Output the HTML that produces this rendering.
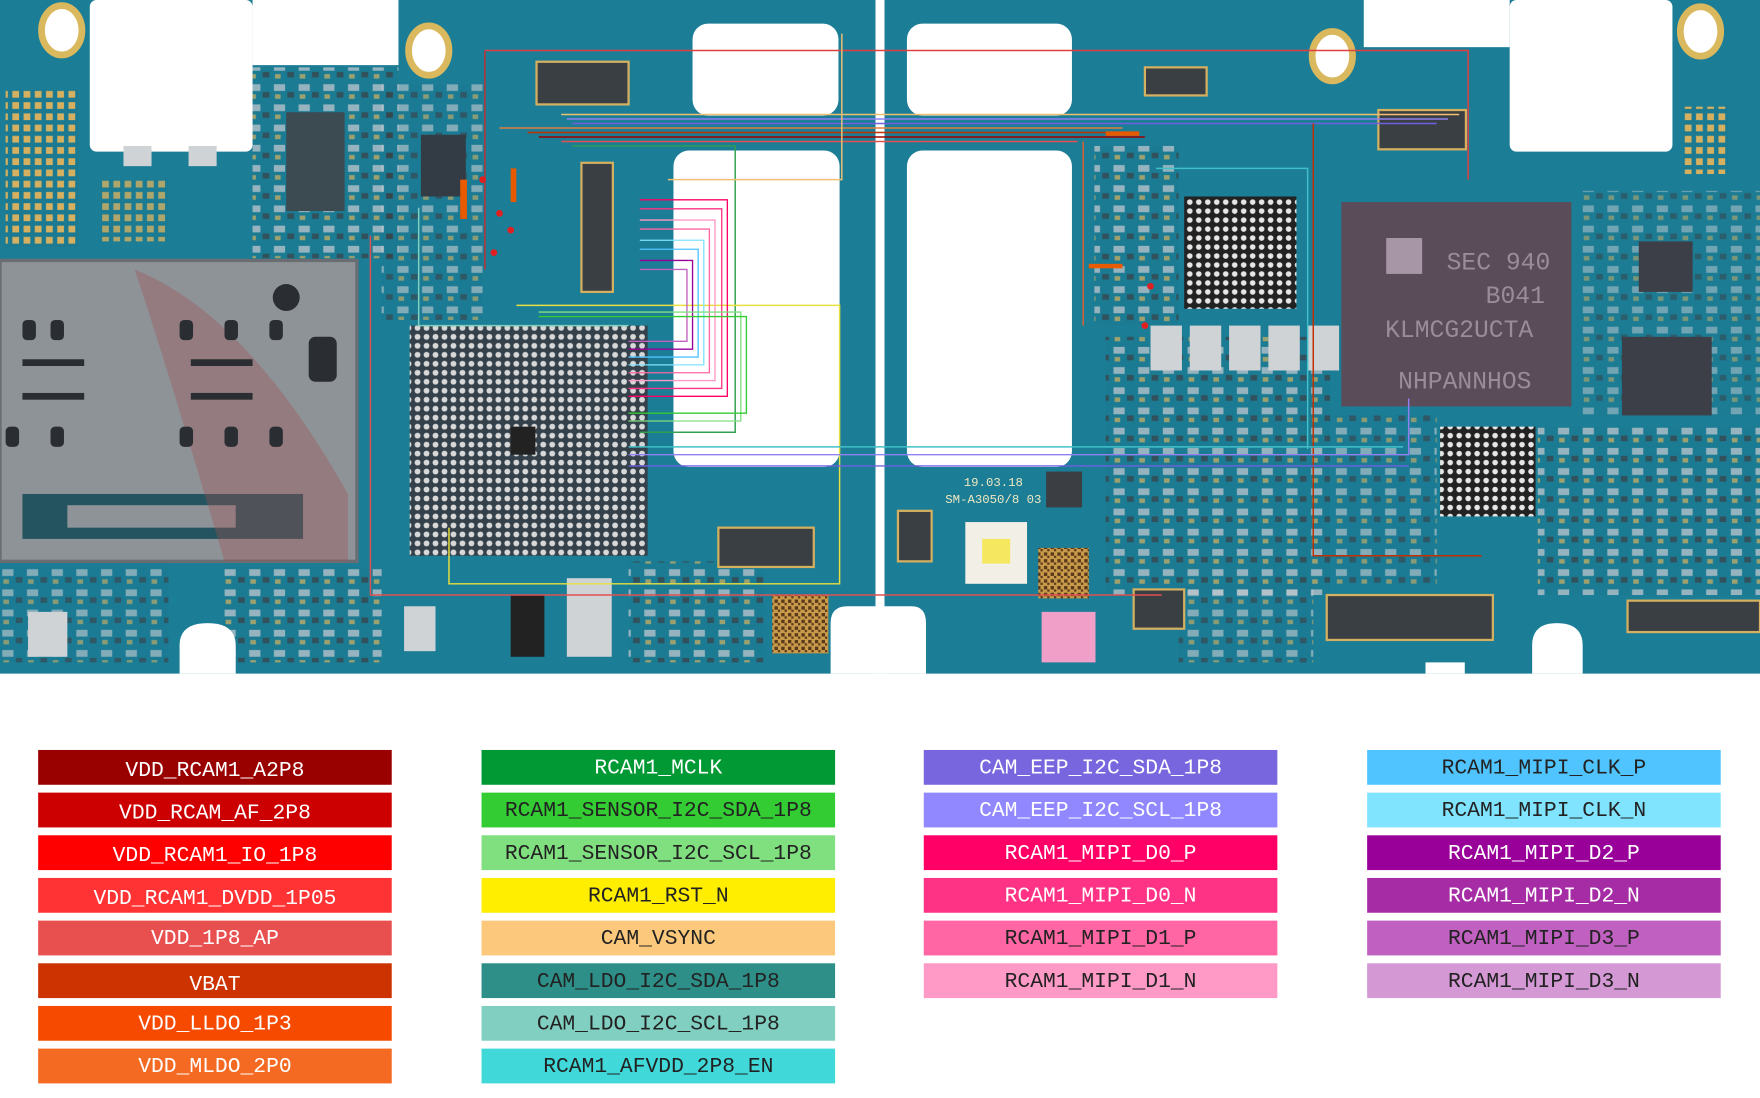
<!DOCTYPE html>
<html><head><meta charset="utf-8"><style>
html,body{margin:0;padding:0;background:#fff;}
svg{display:block;}
.t{font-family:"Liberation Mono","DejaVu Sans Mono",monospace;font-size:19px;text-anchor:middle;}
</style></head><body>
<svg width="1760" height="1098" viewBox="0 0 1568 978" preserveAspectRatio="none" xmlns="http://www.w3.org/2000/svg">
<defs>
<pattern id="dots" width="8" height="8" patternUnits="userSpaceOnUse"><rect width="8" height="8" fill="#34414a"/><circle cx="4" cy="4" r="2.6" fill="#d8d8d8"/></pattern>
<pattern id="dots2" width="8" height="8" patternUnits="userSpaceOnUse"><rect width="8" height="8" fill="#222"/><circle cx="4" cy="4" r="2.5" fill="#e6e6e6"/></pattern>
<pattern id="pads" width="10" height="10" patternUnits="userSpaceOnUse"><rect width="10" height="10" fill="#1b7a92"/><rect x="1" y="1" width="6" height="6" fill="#d4b060"/></pattern>
<pattern id="comp" width="22" height="18" patternUnits="userSpaceOnUse"><rect width="22" height="18" fill="#1b7a92"/><rect x="2" y="3" width="10" height="6" fill="#c9ccd0"/><rect x="14" y="10" width="6" height="5" fill="#3a3f44"/><rect x="3" y="12" width="5" height="4" fill="#d4b060"/></pattern>
<pattern id="qr" width="6" height="6" patternUnits="userSpaceOnUse"><rect width="6" height="6" fill="#c99a4a"/><rect x="0" y="0" width="3" height="3" fill="#5a3a1a"/><rect x="3" y="3" width="2" height="2" fill="#5a3a1a"/></pattern>
</defs>
<rect x="0" y="0" width="1568" height="600" fill="#1b7d96"/>
<!-- component texture areas -->
<rect x="225" y="60" width="130" height="170" fill="url(#comp)" opacity="0.7"/>
<rect x="340" y="75" width="90" height="210" fill="url(#comp)" opacity="0.6"/>
<rect x="200" y="505" width="140" height="85" fill="url(#comp)" opacity="0.7"/>
<rect x="560" y="500" width="120" height="90" fill="url(#comp)" opacity="0.7"/>
<rect x="975" y="130" width="75" height="160" fill="url(#comp)" opacity="0.7"/>
<rect x="985" y="300" width="200" height="230" fill="url(#comp)" opacity="0.7"/>
<rect x="1190" y="370" width="90" height="150" fill="url(#comp)" opacity="0.6"/>
<rect x="1370" y="380" width="198" height="150" fill="url(#comp)" opacity="0.7"/>
<rect x="1410" y="170" width="158" height="200" fill="url(#comp)" opacity="0.5"/>
<rect x="1050" y="520" width="120" height="70" fill="url(#comp)" opacity="0.6"/>
<rect x="0" y="505" width="150" height="85" fill="url(#comp)" opacity="0.6"/>
<rect x="820" y="30" width="0" height="0"/>
<!-- whites -->
<rect x="80" y="0" width="145" height="135" rx="6" fill="#fff"/>
<rect x="225" y="0" width="130" height="58" fill="#fff"/>
<rect x="1215" y="0" width="130" height="42" fill="#fff"/>
<rect x="1345" y="0" width="145" height="135" rx="6" fill="#fff"/>
<rect x="780" y="0" width="8" height="600" fill="#fff"/>
<path d="M740 600 L740 555 Q740 540 755 540 L812 540 Q825 540 825 555 L825 600 Z" fill="#fff"/>
<path d="M160 600 L160 575 Q160 555 185 555 Q210 555 210 575 L210 600 Z" fill="#fff"/>
<path d="M1365 600 L1365 575 Q1365 555 1387 555 Q1410 555 1410 575 L1410 600 Z" fill="#fff"/>
<rect x="1270" y="590" width="35" height="10" fill="#fff"/>
<rect x="617" y="21" width="130" height="82" rx="14" fill="#fff"/>
<rect x="600" y="134" width="148" height="282" rx="14" fill="#fff"/>
<rect x="808" y="21" width="147" height="82" rx="14" fill="#fff"/>
<rect x="808" y="134" width="147" height="282" rx="14" fill="#fff"/>
<g fill="#fff" stroke="#d9b85e" stroke-width="6">
<ellipse cx="55" cy="27" rx="18" ry="22"/><ellipse cx="382" cy="45" rx="18" ry="22"/>
<ellipse cx="1187" cy="50" rx="18" ry="22"/><ellipse cx="1515" cy="28" rx="18" ry="22"/>
</g>
<rect x="5" y="80" width="65" height="140" fill="url(#pads)"/>
<rect x="90" y="160" width="60" height="55" fill="url(#pads)" opacity="0.8"/>
<rect x="1500" y="95" width="40" height="60" fill="url(#pads)"/>
<!-- SIM tray -->
<rect x="0" y="232" width="318" height="268" fill="#8e9398"/>
<rect x="0" y="232" width="318" height="268" fill="none" stroke="#6a6e73" stroke-width="3"/>
<rect x="20" y="440" width="250" height="40" fill="#24545f"/>
<rect x="60" y="450" width="150" height="20" fill="#8e9398"/>
<path d="M120 240 Q220 280 310 440 L310 500 L200 500 Q150 330 120 240Z" fill="#a05050" opacity="0.35"/>
<g fill="#2a2e33">
<rect x="20" y="285" width="12" height="18" rx="4"/><rect x="45" y="285" width="12" height="18" rx="4"/><rect x="160" y="285" width="12" height="18" rx="4"/><rect x="200" y="285" width="12" height="18" rx="4"/><rect x="240" y="285" width="12" height="18" rx="4"/>
<rect x="5" y="380" width="12" height="18" rx="4"/><rect x="45" y="380" width="12" height="18" rx="4"/><rect x="160" y="380" width="12" height="18" rx="4"/><rect x="200" y="380" width="12" height="18" rx="4"/><rect x="240" y="380" width="12" height="18" rx="4"/>
<rect x="20" y="320" width="55" height="6"/><rect x="20" y="350" width="55" height="6"/><rect x="170" y="320" width="55" height="6"/><rect x="170" y="350" width="55" height="6"/>
<circle cx="255" cy="265" r="12"/><rect x="275" y="300" width="25" height="40" rx="6"/>
</g>
<rect x="255" y="100" width="52" height="88" fill="#3c4a52"/>
<rect x="375" y="120" width="40" height="55" fill="#333c44"/>
<rect x="365" y="290" width="212" height="205" fill="url(#dots)"/>
<rect x="455" y="380" width="22" height="25" fill="#222"/>
<rect x="1055" y="175" width="100" height="100" fill="url(#dots2)"/>
<rect x="1195" y="180" width="205" height="182" fill="#5a4c58"/>
<text x="1335" y="240" font-family="Liberation Mono,monospace" font-size="22" fill="#9a8c98" text-anchor="middle">SEC 940</text>
<text x="1350" y="270" font-family="Liberation Mono,monospace" font-size="22" fill="#9a8c98" text-anchor="middle">B041</text>
<text x="1300" y="300" font-family="Liberation Mono,monospace" font-size="22" fill="#9a8c98" text-anchor="middle">KLMCG2UCTA</text>
<text x="1305" y="346" font-family="Liberation Mono,monospace" font-size="22" fill="#9a8c98" text-anchor="middle">NHPANNHOS</text>
<rect x="1235" y="212" width="32" height="32" fill="#c8b8c8" opacity="0.7"/>
<rect x="1283" y="380" width="85" height="80" fill="url(#dots2)"/>
<rect x="1445" y="300" width="80" height="70" fill="#3d3f48"/>
<rect x="1460" y="215" width="48" height="45" fill="#3d3f48"/>
<g fill="#3a3f44" stroke="#d4b060" stroke-width="2">
<rect x="478" y="55" width="82" height="38"/><rect x="518" y="145" width="28" height="115"/>
<rect x="640" y="470" width="85" height="35"/><rect x="1182" y="530" width="148" height="40"/>
<rect x="1450" y="535" width="118" height="28"/><rect x="1228" y="98" width="78" height="35"/>
<rect x="1020" y="60" width="55" height="25"/><rect x="1010" y="525" width="45" height="35"/><rect x="800" y="455" width="30" height="45"/>
</g>
<g fill="#cfd3d6">
<rect x="1025" y="290" width="28" height="40"/><rect x="1060" y="290" width="28" height="40"/><rect x="1095" y="290" width="28" height="40"/><rect x="1130" y="290" width="28" height="40"/><rect x="1165" y="290" width="28" height="40"/>
<rect x="505" y="515" width="40" height="70"/><rect x="360" y="540" width="28" height="40"/><rect x="110" y="130" width="25" height="18"/><rect x="168" y="130" width="25" height="18"/>
<rect x="25" y="545" width="35" height="40"/>
</g>
<rect x="455" y="530" width="30" height="55" fill="#222"/>
<rect x="688" y="530" width="50" height="52" fill="url(#qr)"/>
<rect x="925" y="488" width="45" height="45" fill="url(#qr)"/>
<rect x="928" y="545" width="48" height="45" fill="#f0a0c8"/>
<rect x="860" y="465" width="55" height="55" fill="#f2efe6"/>
<rect x="875" y="480" width="25" height="22" fill="#f5e860"/>
<rect x="932" y="420" width="32" height="32" fill="#3b3f44"/>
<text x="885" y="433" font-family="Liberation Mono,monospace" font-size="11" fill="#f0e8c0" text-anchor="middle">19.03.18</text>
<text x="885" y="448" font-family="Liberation Mono,monospace" font-size="11" fill="#f0e8c0" text-anchor="middle">SM-A3050/8 03</text>
<g fill="none" stroke-width="1.3">
<path d="M432 45 H1308 V160" stroke="#e04040"/>
<path d="M432 45 V240" stroke="#c03030"/>
<path d="M500 102 H1300" stroke="#f0c070"/>
<path d="M505 106 H1290" stroke="#9080f0"/>
<path d="M510 110 H1280" stroke="#7060e0"/>
<path d="M445 114 H1000" stroke="#e08040"/>
<path d="M470 118 H1010" stroke="#c03000"/>
<path d="M480 122 H1020" stroke="#a00000"/>
<path d="M500 126 H960" stroke="#e05050"/>
<path d="M510 130 H655 V385 H570" stroke="#30a050"/>
<path d="M595 160 H750 V30" stroke="#f0c070"/>
<path d="M373 185 V290 H560" stroke="#80d0c0"/>
<path d="M330 210 V530 H1035" stroke="#e05050"/>
<path d="M460 272 H748 V520 H400 V470" stroke="#e8e040"/>
<path d="M965 126 V290" stroke="#e06030"/>
<path d="M1170 110 V495 H1320" stroke="#c03000"/>
<path d="M560 405 H1255 V355" stroke="#9080f0"/>
<path d="M560 398 H1250" stroke="#40c0c8"/>
<path d="M560 415 H1255" stroke="#7060e0"/>
<path d="M1030 150 H1165 V400" stroke="#40c0c8"/>
</g>
<g stroke-width="1.2" fill="none">
<path d="M570 178 H648 V353 H560" stroke="#ff0066"/>
<path d="M570 186 H643 V346 H560" stroke="#ff3385"/>
<path d="M570 196 H637 V339 H560" stroke="#ff99c6"/>
<path d="M570 204 H632 V332 H560" stroke="#ff66a3"/>
<path d="M570 214 H627 V325 H560" stroke="#80e4ff"/>
<path d="M570 222 H622 V318 H560" stroke="#50c4ff"/>
<path d="M570 232 H617 V311 H560" stroke="#990099"/>
<path d="M570 240 H612 V304 H560" stroke="#c060c0"/>
<path d="M480 278 H660 V375 H560" stroke="#80e080"/>
<path d="M480 282 H665 V368 H560" stroke="#33cc33"/>
</g>
<g fill="#e02020"><circle cx="430" cy="160" r="3"/><circle cx="445" cy="190" r="3"/><circle cx="440" cy="225" r="3"/><circle cx="455" cy="205" r="3"/><circle cx="1025" cy="255" r="3"/><circle cx="1020" cy="290" r="3"/></g>
<g fill="#e85a00"><rect x="410" y="160" width="6" height="35"/><rect x="455" y="150" width="5" height="30"/><rect x="985" y="117" width="30" height="4"/><rect x="970" y="235" width="30" height="4"/></g>
<g class="t">
<rect x="34" y="668" width="315" height="31" fill="#990000"/><text x="191.5" y="691" fill="#fff">VDD_RCAM1_A2P8</text>
<rect x="34" y="706" width="315" height="31" fill="#cc0000"/><text x="191.5" y="729" fill="#fff">VDD_RCAM_AF_2P8</text>
<rect x="34" y="744" width="315" height="31" fill="#ff0000"/><text x="191.5" y="767" fill="#fff">VDD_RCAM1_IO_1P8</text>
<rect x="34" y="782" width="315" height="31" fill="#ff3333"/><text x="191.5" y="805" fill="#fff">VDD_RCAM1_DVDD_1P05</text>
<rect x="34" y="820" width="315" height="31" fill="#e85050"/><text x="191.5" y="841" fill="#fff">VDD_1P8_AP</text>
<rect x="34" y="858" width="315" height="31" fill="#cc3300"/><text x="191.5" y="882" fill="#fff">VBAT</text>
<rect x="34" y="896" width="315" height="31" fill="#f54a00"/><text x="191.5" y="917" fill="#fff">VDD_LLDO_1P3</text>
<rect x="34" y="934" width="315" height="31" fill="#f46a22"/><text x="191.5" y="955" fill="#fff">VDD_MLDO_2P0</text>
<rect x="429" y="668" width="315" height="31" fill="#009933"/><text x="586.5" y="689" fill="#fff">RCAM1_MCLK</text>
<rect x="429" y="706" width="315" height="31" fill="#33cc33"/><text x="586.5" y="727" fill="#222">RCAM1_SENSOR_I2C_SDA_1P8</text>
<rect x="429" y="744" width="315" height="31" fill="#80e080"/><text x="586.5" y="765" fill="#222">RCAM1_SENSOR_I2C_SCL_1P8</text>
<rect x="429" y="782" width="315" height="31" fill="#ffee00"/><text x="586.5" y="803" fill="#222">RCAM1_RST_N</text>
<rect x="429" y="820" width="315" height="31" fill="#fcc97c"/><text x="586.5" y="841" fill="#222">CAM_VSYNC</text>
<rect x="429" y="858" width="315" height="31" fill="#2e8f88"/><text x="586.5" y="879" fill="#222">CAM_LDO_I2C_SDA_1P8</text>
<rect x="429" y="896" width="315" height="31" fill="#80cfc0"/><text x="586.5" y="917" fill="#222">CAM_LDO_I2C_SCL_1P8</text>
<rect x="429" y="934" width="315" height="31" fill="#40d8d8"/><text x="586.5" y="955" fill="#222">RCAM1_AFVDD_2P8_EN</text>
<rect x="823" y="668" width="315" height="31" fill="#7766dd"/><text x="980.5" y="689" fill="#fff">CAM_EEP_I2C_SDA_1P8</text>
<rect x="823" y="706" width="315" height="31" fill="#9188ff"/><text x="980.5" y="727" fill="#fff">CAM_EEP_I2C_SCL_1P8</text>
<rect x="823" y="744" width="315" height="31" fill="#ff0066"/><text x="980.5" y="765" fill="#fff">RCAM1_MIPI_D0_P</text>
<rect x="823" y="782" width="315" height="31" fill="#ff3385"/><text x="980.5" y="803" fill="#fff">RCAM1_MIPI_D0_N</text>
<rect x="823" y="820" width="315" height="31" fill="#ff66a3"/><text x="980.5" y="841" fill="#222">RCAM1_MIPI_D1_P</text>
<rect x="823" y="858" width="315" height="31" fill="#ff99c6"/><text x="980.5" y="879" fill="#222">RCAM1_MIPI_D1_N</text>
<rect x="1218" y="668" width="315" height="31" fill="#50c4ff"/><text x="1375.5" y="689" fill="#222">RCAM1_MIPI_CLK_P</text>
<rect x="1218" y="706" width="315" height="31" fill="#80e4ff"/><text x="1375.5" y="727" fill="#222">RCAM1_MIPI_CLK_N</text>
<rect x="1218" y="744" width="315" height="31" fill="#990099"/><text x="1375.5" y="765" fill="#fff">RCAM1_MIPI_D2_P</text>
<rect x="1218" y="782" width="315" height="31" fill="#a62ca6"/><text x="1375.5" y="803" fill="#fff">RCAM1_MIPI_D2_N</text>
<rect x="1218" y="820" width="315" height="31" fill="#c060c0"/><text x="1375.5" y="841" fill="#222">RCAM1_MIPI_D3_P</text>
<rect x="1218" y="858" width="315" height="31" fill="#d499d4"/><text x="1375.5" y="879" fill="#222">RCAM1_MIPI_D3_N</text>
</g>
</svg>
</body></html>
